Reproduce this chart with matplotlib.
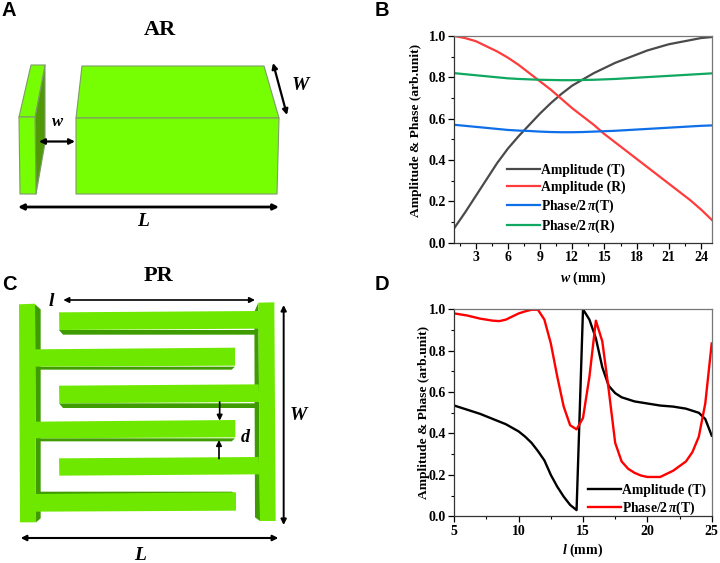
import matplotlib
matplotlib.use("Agg")
import matplotlib.pyplot as plt
from matplotlib.patches import Polygon, FancyArrowPatch
from matplotlib.ticker import MultipleLocator

plt.rcParams['font.family'] = ['Liberation Serif', 'DejaVu Serif']
plt.rcParams['font.weight'] = 'bold'
plt.rcParams['mathtext.fontset'] = 'custom'
plt.rcParams['mathtext.rm'] = 'Liberation Serif:bold'
plt.rcParams['mathtext.it'] = 'Liberation Serif:italic:bold'
plt.rcParams['mathtext.bf'] = 'Liberation Serif:bold'

# ---- Panel B data
w_mm = [1, 2, 3, 4, 5, 6, 7, 8, 9, 10, 11, 12, 13, 14, 15, 16, 17, 18, 19, 20, 21, 22, 23, 24, 25]
amp_T_w = [0.07, 0.145, 0.225, 0.305, 0.385, 0.455, 0.515, 0.57, 0.625, 0.675, 0.72, 0.76, 0.79, 0.82, 0.845, 0.87, 0.89, 0.91, 0.93, 0.945, 0.96, 0.97, 0.98, 0.99, 0.995]
amp_R_w = [1.0, 0.99, 0.975, 0.95, 0.925, 0.895, 0.86, 0.82, 0.78, 0.74, 0.695, 0.65, 0.61, 0.57, 0.525, 0.485, 0.445, 0.405, 0.365, 0.325, 0.285, 0.245, 0.205, 0.16, 0.11]
phase_T_w = [0.57, 0.565, 0.56, 0.555, 0.55, 0.545, 0.542, 0.54, 0.537, 0.535, 0.534, 0.534, 0.535, 0.537, 0.539, 0.541, 0.544, 0.547, 0.55, 0.553, 0.556, 0.559, 0.562, 0.565, 0.567]
phase_R_w = [0.82, 0.815, 0.81, 0.805, 0.80, 0.795, 0.792, 0.79, 0.788, 0.787, 0.786, 0.786, 0.787, 0.788, 0.79, 0.792, 0.795, 0.798, 0.801, 0.804, 0.807, 0.81, 0.813, 0.816, 0.819]

# ---- Panel D data
l_amp = [5, 6, 7, 8, 9, 10, 10.5, 11, 11.5, 12, 12.5, 13, 13.5, 14, 14.5, 15, 15.5, 16, 16.5, 17, 17.5, 18, 19, 20, 21, 22, 23, 24, 24.5, 25]
amp_T_l = [0.535, 0.515, 0.495, 0.47, 0.445, 0.41, 0.385, 0.355, 0.315, 0.27, 0.2, 0.143, 0.095, 0.055, 0.03, 1.0, 0.95, 0.86, 0.72, 0.63, 0.595, 0.575, 0.555, 0.545, 0.535, 0.53, 0.52, 0.50, 0.47, 0.39]
l_phase = [5, 6, 7, 8, 8.5, 9, 9.5, 10, 10.5, 11, 11.5, 12, 12.5, 13, 13.5, 14, 14.5, 15, 15.5, 16, 16.5, 17, 17.5, 18, 18.5, 19, 19.5, 20, 21, 22, 23, 23.5, 24, 24.5, 25]
phase_T_l = [0.98, 0.97, 0.955, 0.945, 0.943, 0.95, 0.965, 0.98, 0.99, 0.998, 0.998, 0.95, 0.835, 0.675, 0.53, 0.44, 0.42, 0.475, 0.675, 0.945, 0.845, 0.61, 0.355, 0.265, 0.23, 0.21, 0.197, 0.19, 0.19, 0.22, 0.265, 0.31, 0.385, 0.545, 0.835]

# ---- Labels
legend_B = ['Amplitude (T)', 'Amplitude (R)', r'Phase/2$\,\pi$(T)', r'Phase/2$\,\pi$(R)']
legend_D = ['Amplitude (T)', r'Phase/2$\,\pi$(T)']
colors_B = ['#4a4a4a', '#ff3b3b', '#0f6fe8', '#0fa860']
colors_D = ['#000000', '#ff0000']

W, H = 720, 563
fig = plt.figure(figsize=(7.2, 5.63), dpi=100, facecolor='white')

def axes_px(x0, y0, x1, y1, **kw):
    return fig.add_axes([x0 / W, 1 - y1 / H, (x1 - x0) / W, (y1 - y0) / H], **kw)

# ---- Schematic overlay in pixel units
ov = axes_px(0, 0, W, H)
ov.set_xlim(0, W)
ov.set_ylim(H, 0)
ov.axis('off')

def poly(pts, fc, ec='none', lw=0.8):
    ov.add_patch(Polygon(pts, closed=True, fc=fc, ec=ec, lw=lw, joinstyle='round'))

def arrow(p, q, lw=1.6, ms=8):
    ov.add_patch(FancyArrowPatch(p, q, arrowstyle='<|-|>', mutation_scale=ms, lw=lw,
                                 color='black', shrinkA=0, shrinkB=0))

def arrow1(p, q, lw=1.2, ms=8):
    ov.add_patch(FancyArrowPatch(p, q, arrowstyle='-|>', mutation_scale=ms, lw=lw,
                                 color='black', shrinkA=0, shrinkB=0))

def sans(x, y, s):
    ov.text(x, y, s, family='Liberation Sans', weight='bold', fontsize=14.5, ha='left', va='center')

def serif_it(x, y, s, fs=12):
    ov.text(x, y, s, style='italic', weight='bold', fontsize=fs, ha='center', va='center')

GA, DA, EA = '#76ff03', '#4f9a06', '#7f9a6a'

# Panel A
poly([(35, 117), (45, 65), (45, 143), (36, 194)], DA, EA)
poly([(19, 117), (31, 65), (45, 65), (35, 117)], GA, EA)
poly([(19, 117), (35, 117), (36, 194), (20, 194)], GA, EA)
poly([(76, 118), (82, 66), (264, 66), (279, 118)], GA, EA)
poly([(76, 118), (279, 118), (277, 194), (76, 194)], GA, EA)
arrow((39, 141.5), (75, 141.5))
arrow((18, 207), (279, 207), lw=2.0)
arrow((273, 63), (287, 115))
serif_it(58, 122, 'w')
serif_it(300, 86, 'W', 14)
serif_it(143, 222, 'L', 14)
ov.text(160, 30, 'AR', weight='bold', fontsize=16, ha='center', va='center')

# Panel C
GC, DC = '#6fe800', '#3f9c00'
def zc(pts):
    return [(x / 3, 270 + y / 3) for x, y in pts]

poly(zc([(105, 103), (122, 118), (122, 745), (108, 757)]), DC)
poly(zc([(775, 98), (763, 125), (765, 742), (780, 753)]), DC)
for y0, y1 in [(238, 290), (455, 505)]:
    poly(zc([(105, y1), (118, y1 + 9), (695, y1 + 9), (705, y1)]), DC)
poly(zc([(105, 672), (120, 665), (695, 665), (708, 672)]), DC)
for y0, y1 in [(127, 180), (347, 400)]:
    poly(zc([(177, y1), (189, y1 + 14), (765, y1 + 14), (778, y1)]), DC)
poly(zc([(57, 103), (105, 101), (108, 757), (60, 757)]), GC)
for y0, y1, xe in [(238, 290, 705), (455, 505, 706), (672, 725, 708)]:
    poly(zc([(104, y0), (xe, y0 - 5), (xe, y1 - 3), (104, y1)]), GC)
poly(zc([(775, 98), (823, 97), (827, 753), (780, 753)]), GC)
for y0, y1 in [(127, 180), (347, 400), (565, 617)]:
    poly(zc([(177, y0), (776, y0 - 4), (778, y1 - 4), (178, y1)]), GC)

arrow(*zc([(190, 90), (765, 90)]), lw=1.2, ms=8)
arrow(*zc([(62, 804), (835, 804)]), lw=1.5, ms=8)
arrow(*zc([(851, 105), (851, 765)]), lw=1.4, ms=8)
arrow1(*zc([(659, 396), (659, 452)]))
arrow1(*zc([(657, 566), (657, 510)]))
serif_it(51, 302, 'l', 14)
serif_it(245, 437, 'd', 13)
serif_it(298, 416, 'W', 14)
serif_it(140, 555, 'L', 14)
ov.text(158, 276, 'PR', weight='bold', fontsize=16, ha='center', va='center')

sans(2, 10, 'A')
sans(375, 10, 'B')
sans(2, 285, 'C')
sans(375, 285, 'D')

# ---- Chart panels
def style(ax):
    for s in ['top', 'right']:
        ax.spines[s].set_color('#777777')
    for s in ['left', 'bottom']:
        ax.spines[s].set_color('#333333')
    for s in ax.spines.values():
        s.set_linewidth(0.9)
    ax.tick_params(which='major', length=4, width=0.9, labelsize=10, pad=2)
    ax.tick_params(which='minor', length=2, width=0.8)
    ax.set_ylim(0, 1)
    ax.yaxis.set_major_locator(MultipleLocator(0.2))
    ax.yaxis.set_minor_locator(MultipleLocator(0.1))

LEG = dict(loc='lower left', frameon=False, fontsize=9.8, handlelength=2.45, handletextpad=0.05,
           labelspacing=0.25, borderpad=0, borderaxespad=0)

axB = axes_px(454.3, 36, 711.7, 242.5)
for y, c, lab in zip([amp_T_w, amp_R_w, phase_T_w, phase_R_w], colors_B, legend_B):
    axB.plot(w_mm, y, color=c, lw=1.6, label=lab)
axB.set_xlim(1, 25)
axB.xaxis.set_major_locator(MultipleLocator(3))
axB.xaxis.set_minor_locator(MultipleLocator(1.5))
style(axB)
axB.set_xlabel(r'$\mathit{w}$ (mm)', fontsize=10, weight='bold', labelpad=4)
axB.set_ylabel('Amplitude & Phase (arb.unit)', fontsize=9.7, weight='bold', labelpad=5, y=0.545)
axB.legend(bbox_to_anchor=(0.205, 0.035), **LEG)

axD = axes_px(454.3, 309.3, 711.7, 516.3)
axD.plot(l_amp, amp_T_l, color=colors_D[0], lw=1.7, label=legend_D[0])
axD.plot(l_phase, phase_T_l, color=colors_D[1], lw=1.7, label=legend_D[1])
axD.set_xlim(5, 25)
axD.xaxis.set_major_locator(MultipleLocator(5))
axD.xaxis.set_minor_locator(MultipleLocator(2.5))
style(axD)
axD.set_xlabel(r'$\mathit{l}$ (mm)', fontsize=10, weight='bold', labelpad=3)
axD.set_ylabel('Amplitude & Phase (arb.unit)', fontsize=9.7, weight='bold', labelpad=-1)
axD.legend(bbox_to_anchor=(0.52, -0.005), **LEG)

fig.savefig('out.png', dpi=100)
